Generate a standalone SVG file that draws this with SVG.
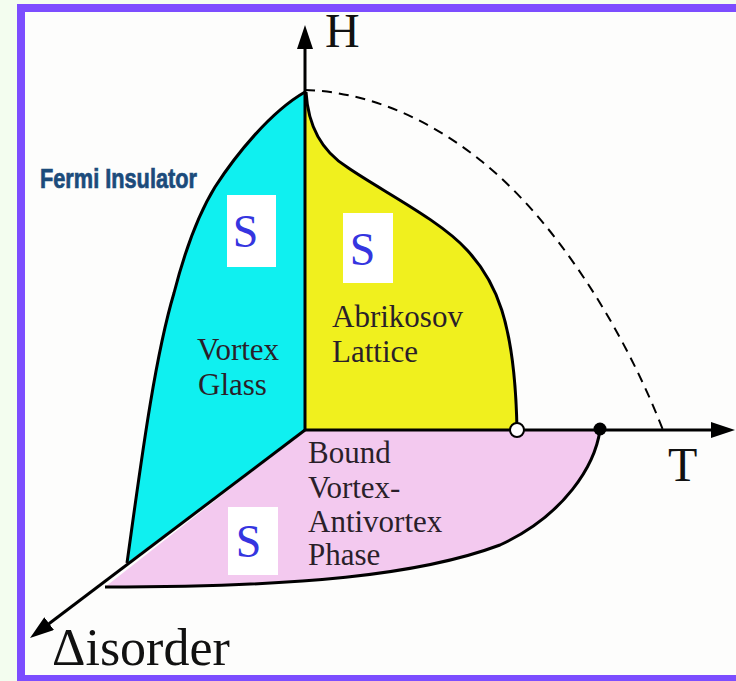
<svg xmlns="http://www.w3.org/2000/svg" width="736" height="681" viewBox="0 0 736 681">
  <style>
    .lbl { font-family: "Liberation Serif", "Times New Roman", serif; font-size: 31px; fill: #2a1f2a; }
    .ax { font-family: "Liberation Serif", "Times New Roman", serif; fill: #111; }
    .s { font-family: "Liberation Serif", "Times New Roman", serif; font-size: 46px; fill: #3535e0; text-anchor: middle; }
    .box { fill: #ffffff; }
    .edge { fill: none; stroke: #000; stroke-width: 3; stroke-linejoin: round; }
    .axis { fill: none; stroke: #000; stroke-width: 3; }
  </style>
  <defs>
    <marker id="arr" viewBox="0 0 24 16" refX="14" refY="8" markerWidth="24" markerHeight="16" markerUnits="userSpaceOnUse" orient="auto">
      <path d="M0,0 L24,8 L0,16 Z" fill="#000"/>
    </marker>
  </defs>

  <!-- background and frame -->
  <rect x="0" y="0" width="736" height="681" fill="#f3fdef"/>
  <rect x="25" y="12" width="711" height="663" fill="#fdfdfc"/>
  <rect x="17" y="4" width="719" height="8" fill="#7c4dff"/>
  <rect x="17" y="4" width="8" height="677" fill="#7c4dff"/>
  <rect x="17" y="675" width="719" height="6" fill="#7c4dff"/>

  <g id="bound-vortex-antivortex">
    <path d="M305,430 L600,430 C595,465 565,515 500,545 C420,575 300,587 105,587 Z" fill="#f3c9ef"/>
    <path class="edge" d="M600,430 C595,465 565,515 500,545 C420,575 300,587 105,587"/>
    <rect class="box" x="228" y="507" width="50" height="68"/>
    <text class="s" x="248.5" y="557">S</text>
    <text class="lbl" x="308" y="463">Bound</text>
    <text class="lbl" x="308" y="498">Vortex-</text>
    <text class="lbl" x="308" y="532">Antivortex</text>
    <text class="lbl" x="308" y="565">Phase</text>
  </g>

  <g id="vortex-glass">
    <path d="M305,92 L305,430 L127,563 C140,470 154,360 174,293 C183,258 196,218 215,187 C235,156 270,112 305,92 Z" fill="#0ff0f0"/>
    <path class="edge" d="M127,563 C140,470 154,360 174,293 C183,258 196,218 215,187 C235,156 270,112 305,92"/>
    <rect class="box" x="227" y="195" width="49" height="72"/>
    <text class="s" x="245.5" y="247">S</text>
    <text class="lbl" x="197" y="360">Vortex</text>
    <text class="lbl" x="198" y="395">Glass</text>
  </g>

  <g id="abrikosov-lattice">
    <path d="M306,92 C308,125 320,150 347,167 C380,190 440,220 467,250 C495,280 515,320 517,430 L305,430 Z" fill="#f0f01e"/>
    <path class="edge" d="M306,92 C308,125 320,150 347,167 C380,190 440,220 467,250 C495,280 515,320 517,430"/>
    <rect class="box" x="343" y="213" width="50" height="70"/>
    <text class="s" x="362.5" y="265">S</text>
    <text class="lbl" x="332" y="327">Abrikosov</text>
    <text class="lbl" x="332" y="362">Lattice</text>
  </g>

  <g id="fermi-insulator">
    <text x="40" y="188" font-family="'Liberation Sans Narrow', 'Liberation Sans', Arial, sans-serif" font-weight="bold" font-size="27" fill="#1b4b7b" stroke="#1b4b7b" stroke-width="0.7" textLength="157" lengthAdjust="spacingAndGlyphs">Fermi Insulator</text>
  </g>

  <g id="connectors">
    <path d="M305,90 C370,92 430,120 480,160 C550,215 620,320 663,430" fill="none" stroke="#000" stroke-width="2" stroke-dasharray="10,7"/>
    <line class="axis" x1="305" y1="430" x2="305" y2="35" marker-end="url(#arr)"/>
    <line class="axis" x1="305" y1="430" x2="725" y2="430" marker-end="url(#arr)"/>
    <line class="axis" x1="305" y1="430" x2="38" y2="632" marker-end="url(#arr)"/>
    <circle cx="517" cy="430" r="7" fill="#fff" stroke="#000" stroke-width="2"/>
    <circle cx="600" cy="429" r="6.5" fill="#000"/>
  </g>

  <g id="axis-labels">
    <text class="ax" x="325" y="47" font-size="48">H</text>
    <text class="ax" x="668" y="481" font-size="48">T</text>
    <text class="ax" x="52" y="665" font-size="52">Δisorder</text>
  </g>
</svg>
